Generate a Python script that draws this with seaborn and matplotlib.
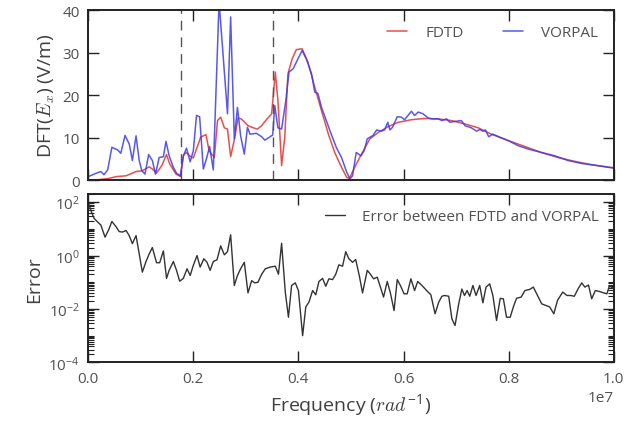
import numpy as np
import pandas as pd
import matplotlib
matplotlib.use("Agg")
import matplotlib.pyplot as plt
import seaborn as sns
from matplotlib.ticker import LogLocator, NullFormatter, LogFormatterSciNotation

# Frequencies are given in units of 1e6 (axis shows 1e7 offset)
fdtd_freq = [0.00, 0.20, 0.40, 0.53, 0.72, 0.91, 1.03, 1.16, 1.22, 1.30, 1.40, 1.49, 1.55,
             1.67, 1.76, 1.81, 1.86, 1.93, 2.00, 2.06, 2.14, 2.24, 2.30, 2.40, 2.46, 2.52,
             2.59, 2.65, 2.71, 2.79, 2.85, 2.91, 2.98, 3.04, 3.14, 3.22, 3.30, 3.39, 3.49,
             3.56, 3.61, 3.68, 3.74, 3.80, 3.88, 3.96, 4.07, 4.18, 4.31, 4.44, 4.57, 4.69,
             4.82, 4.92, 4.97, 5.07, 5.20, 5.36, 5.52, 5.71, 5.90, 6.15, 6.40, 6.66, 6.91,
             7.17, 7.42, 7.67, 7.99, 8.31, 8.62, 8.94, 9.26, 9.58, 10.0]
fdtd_field = [0.0, 0.1, 0.4, 0.8, 1.0, 2.0, 2.2, 3.1, 2.6, 1.65, 3.4, 6.0, 3.8,
              1.4, 0.8, 5.7, 6.5, 5.7, 5.2, 7.3, 10.1, 10.7, 6.9, 5.3, 14.0, 14.8,
              12.3, 12.0, 5.5, 10.1, 14.6, 14.4, 13.6, 12.8, 12.3, 12.0, 12.8, 14.2, 15.6,
              25.4, 18.7, 3.4, 10.1, 25.0, 28.5, 30.7, 30.9, 27.8, 21.9, 16.3, 10.8, 6.5,
              3.0, 0.6, 0.4, 3.0, 6.1, 9.7, 11.2, 12.6, 13.6, 14.2, 14.5, 14.4, 14.0,
              13.2, 12.3, 10.8, 9.3, 7.9, 6.5, 5.3, 4.4, 3.6, 2.8]

vorpal_freq = [0.00, 0.15, 0.24, 0.30, 0.37, 0.45, 0.56, 0.62, 0.70, 0.78, 0.84, 0.91, 0.97,
               1.02, 1.08, 1.15, 1.22, 1.28, 1.35, 1.43, 1.48, 1.54, 1.62, 1.68, 1.75, 1.81,
               1.87, 1.94, 2.00, 2.06, 2.12, 2.19, 2.25, 2.31, 2.38, 2.49, 2.65, 2.71, 2.78,
               2.84, 2.90, 2.97, 3.03, 3.08, 3.20, 3.30, 3.36, 3.45, 3.51, 3.55, 3.61, 3.68,
               3.76, 3.82, 3.90, 3.99, 4.07, 4.15, 4.25, 4.31, 4.37, 4.44, 4.60, 4.72, 4.82,
               4.92, 4.98, 5.03, 5.10, 5.19, 5.25, 5.31, 5.42, 5.49, 5.57, 5.64, 5.70, 5.74,
               5.79, 5.88, 5.96, 6.02, 6.15, 6.21, 6.28, 6.37, 6.47, 6.54, 6.66, 6.73, 6.82,
               6.88, 6.98, 7.10, 7.17, 7.29, 7.39, 7.45, 7.51, 7.56, 7.62, 7.70, 7.83, 7.99,
               8.18, 8.37, 8.62, 8.88, 9.13, 9.39, 9.64, 9.92, 10.0]
vorpal_field = [0.8, 1.6, 2.0, 1.25, 2.4, 7.7, 7.1, 6.3, 10.5, 8.5, 4.6, 10.4, 4.6,
                2.2, 1.4, 6.0, 4.6, 1.4, 5.3, 5.5, 9.1, 5.7, 3.0, 1.6, 1.0, 5.7,
                7.5, 4.3, 6.9, 15.2, 14.9, 2.6, 5.0, 7.9, 2.4, 42.0, 15.6, 38.4, 9.7,
                17.1, 10.4, 6.1, 12.4, 10.8, 11.0, 10.2, 9.4, 10.1, 10.6, 17.5, 12.3, 12.0,
                18.7, 25.4, 26.2, 28.5, 30.5, 28.5, 25.0, 20.7, 20.4, 17.1, 11.6, 7.7, 5.3,
                1.8, 0.3, 1.0, 6.5, 5.7, 6.9, 9.7, 10.5, 11.8, 11.5, 11.8, 13.6, 11.8,
                12.4, 14.9, 14.8, 14.2, 16.2, 15.2, 16.0, 15.6, 14.6, 14.4, 14.4, 14.0, 14.4,
                13.6, 13.8, 14.0, 12.8, 12.3, 11.5, 11.9, 11.5, 11.8, 10.2, 10.8, 10.1, 9.3,
                8.1, 7.3, 6.5, 5.7, 4.6, 3.9, 3.5, 3.0, 2.9]

err_freq = [0.00, 0.01, 0.05, 0.11, 0.18, 0.24, 0.32, 0.39, 0.45, 0.53, 0.59, 0.65, 0.72,
            0.78, 0.84, 0.91, 0.96, 1.03, 1.10, 1.16, 1.22, 1.30, 1.36, 1.43, 1.49, 1.54,
            1.62, 1.68, 1.74, 1.81, 1.88, 1.94, 2.00, 2.07, 2.13, 2.20, 2.26, 2.32, 2.38,
            2.45, 2.52, 2.59, 2.65, 2.71, 2.78, 2.84, 2.90, 2.97, 3.04, 3.11, 3.17, 3.23,
            3.30, 3.37, 3.46, 3.56, 3.62, 3.68, 3.75, 3.81, 3.87, 3.94, 4.00, 4.08, 4.14,
            4.20, 4.27, 4.33, 4.39, 4.46, 4.52, 4.58, 4.65, 4.71, 4.77, 4.84, 4.90, 4.96,
            5.03, 5.09, 5.16, 5.22, 5.31, 5.37, 5.43, 5.50, 5.56, 5.62, 5.69, 5.75, 5.82,
            5.88, 5.94, 6.01, 6.07, 6.14, 6.21, 6.27, 6.35, 6.44, 6.52, 6.60, 6.67, 6.73,
            6.78, 6.86, 6.92, 6.98, 7.05, 7.11, 7.16, 7.21, 7.26, 7.32, 7.38, 7.45, 7.51,
            7.57, 7.64, 7.70, 7.77, 7.84, 7.90, 7.96, 8.03, 8.09, 8.15, 8.24, 8.31, 8.40,
            8.47, 8.55, 8.63, 8.71, 8.78, 8.86, 8.93, 9.03, 9.11, 9.18, 9.25, 9.32, 9.39,
            9.45, 9.52, 9.58, 9.65, 9.73, 9.81, 9.87, 9.92, 9.95, 10.0]
err_value = [100, 87, 49, 25, 18, 14, 4.9, 9.3, 19, 12, 7.9, 7.6, 8.7,
             5.6, 2.8, 5.6, 1.5, 0.24, 0.60, 1.15, 2.0, 0.54, 0.54, 1.5, 0.14, 0.28,
             0.60, 0.28, 0.11, 0.14, 0.32, 0.18, 0.43, 1.0, 0.37, 0.76, 0.56, 0.28, 0.60,
             0.69, 2.3, 1.07, 1.4, 6.0, 0.076, 0.18, 0.32, 0.56, 0.040, 0.115, 0.095, 0.10,
             0.20, 0.32, 0.37, 0.40, 0.20, 2.9, 0.043, 0.0049, 0.076, 0.095, 0.049, 0.0010, 0.012,
             0.018, 0.049, 0.034, 0.107, 0.14, 0.071, 0.135, 0.126, 0.20, 0.45, 0.40, 1.4, 0.76,
             0.56, 0.71, 0.17, 0.040, 0.28, 0.20, 0.135, 0.155, 0.066, 0.028, 0.107, 0.040, 0.0087,
             0.126, 0.076, 0.037, 0.037, 0.135, 0.049, 0.107, 0.076, 0.049, 0.034, 0.0066, 0.018, 0.030,
             0.032, 0.030, 0.0043, 0.0024, 0.0155, 0.056, 0.032, 0.049, 0.030, 0.076, 0.032, 0.076, 0.017,
             0.066, 0.087, 0.032, 0.0037, 0.025, 0.024, 0.0049, 0.0049, 0.012, 0.025, 0.028, 0.049, 0.054,
             0.066, 0.032, 0.0155, 0.0135, 0.012, 0.0066, 0.021, 0.043, 0.032, 0.032, 0.030, 0.056, 0.095,
             0.066, 0.079, 0.024, 0.049, 0.045, 0.040, 0.037, 0.076, 0.066, 0.060]

region_bounds = [1.77, 3.52]
unit = 1e6

sns.set_theme(style="ticks")
plt.rcParams.update({
    "font.family": ["Open Sans", "DejaVu Sans"],
    "mathtext.fontset": "custom",
    "mathtext.rm": "Open Sans",
    "mathtext.it": "cmmi10",
    "mathtext.bf": "Open Sans:bold",
    "text.color": "#404040",
    "axes.labelcolor": "#404040",
    "xtick.color": "#222222",
    "ytick.color": "#222222",
    "xtick.labelcolor": "#505050",
    "ytick.labelcolor": "#505050",
    "axes.edgecolor": "#222222",
    "axes.linewidth": 1.4,
    "xtick.direction": "in",
    "ytick.direction": "in",
    "axes.unicode_minus": True,
})

fdtd_df = pd.DataFrame({"freq": np.array(fdtd_freq) * unit, "field": fdtd_field})
vorpal_df = pd.DataFrame({"freq": np.array(vorpal_freq) * unit, "field": vorpal_field})
err_df = pd.DataFrame({"freq": np.array(err_freq) * unit, "err": err_value})

fig = plt.figure(figsize=(6.44, 4.27), dpi=100)
ax1 = fig.add_axes([0.137, 0.576, 0.816, 0.398])
ax2 = fig.add_axes([0.137, 0.149, 0.816, 0.394])

red = "#e53b3b"
blue = "#3b3be8"
sns.lineplot(data=fdtd_df, x="freq", y="field", ax=ax1, color=red, lw=1.1,
             label="FDTD", estimator=None, sort=False, alpha=0.9)
sns.lineplot(data=vorpal_df, x="freq", y="field", ax=ax1, color=blue, lw=1.1,
             label="VORPAL", estimator=None, sort=False, alpha=0.85)
for b in region_bounds:
    ax1.axvline(b * unit, color="#555555", lw=1.0, ls=(0, (7, 5)))

ax1.set_xlim(0, 10 * unit)
ax1.set_ylim(0, 40)
ax1.set_yticks([0, 10, 20, 30, 40])
ax1.set_xticks(np.array([0, 2, 4, 6, 8, 10]) * unit)
ax1.set_xticklabels([])
ax1.set_xlabel("")
ax1.set_ylabel(r"DFT($E_x$) (V/m)", fontsize=14)
ax1.tick_params(axis="both", which="major", direction="in", length=8, width=1,
                top=True, right=True, labelsize=11, pad=6)
leg1 = ax1.legend(loc="upper right", ncol=2, frameon=False, fontsize=11,
                  handlelength=1.3, handletextpad=1.2, columnspacing=2.6,
                  borderaxespad=0.6)

sns.lineplot(data=err_df, x="freq", y="err", ax=ax2, color="#333333", lw=1.0,
             label="Error between FDTD and VORPAL", estimator=None, sort=False)
ax2.set_yscale("log")
ax2.set_xlim(0, 10 * unit)
ax2.set_ylim(1e-4, 2e2)
ax2.yaxis.set_major_locator(matplotlib.ticker.FixedLocator([1e-4, 1e-2, 1e0, 1e2]))
ax2.yaxis.set_major_formatter(LogFormatterSciNotation())
ax2.yaxis.set_minor_locator(LogLocator(base=10, subs=np.arange(1, 10), numticks=100))
ax2.yaxis.set_minor_formatter(NullFormatter())
ax2.set_xticks(np.array([0, 2, 4, 6, 8, 10]) * unit)
ax2.set_xlabel(r"Frequency ($rad^{-1}$)", fontsize=14)
ax2.set_ylabel("Error", fontsize=14)
ax2.tick_params(axis="both", which="major", direction="in", length=8, width=1,
                top=True, right=True, labelsize=11, pad=6)
ax2.tick_params(axis="y", which="minor", direction="in", length=4, width=0.8,
                left=True, right=True)
ax2.xaxis.get_offset_text().set_fontsize(11)
leg2 = ax2.legend(loc="upper right", frameon=False, fontsize=11,
                  handlelength=1.3, handletextpad=1.1, borderaxespad=0.6)
for leg in (leg1, leg2):
    for t in leg.get_texts():
        t.set_color("#505050")

fig.savefig("out.png", dpi=100)
